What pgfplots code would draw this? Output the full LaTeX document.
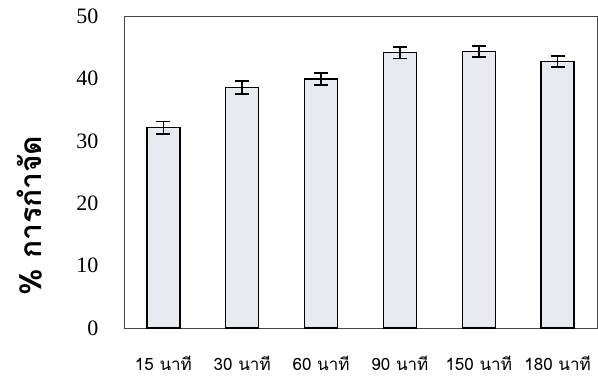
\documentclass[border=0pt]{standalone}
\usepackage{fontspec}
\setmainfont{Liberation Serif}
\newfontfamily\thaifont[Script=Thai]{Loma}
\usepackage{pgfplots}
\pgfplotsset{compat=1.18}
\definecolor{barfill}{RGB}{231,235,241}
\definecolor{framegray}{RGB}{70,70,70}

\pgfplotstableread{
x  val   err
0  32.1  1.0
1  38.5  1.05
2  39.9  1.0
3  44.1  0.9
4  44.3  0.9
5  42.7  0.85
}\removal

\begin{document}
\begin{tikzpicture}
\begin{axis}[
  scale only axis,
  width=473pt, height=312pt,
  xmin=-0.5, xmax=5.5,
  ymin=0, ymax=50,
  ytick={0,10,...,50},
  xtick={0,...,5},
  xticklabels={15 นาที,30 นาที,60 นาที,90 นาที,150 นาที,180 นาที},
  x tick label style={font=\thaifont\fontsize{17}{19}\selectfont, anchor=center, yshift=-35pt},
  y tick label style={font=\fontsize{22}{24}\selectfont, xshift=-22pt},
  /pgf/number format/assume math mode=true,
  major tick length=0pt,
  axis line style={framegray, line width=0.9pt},
  ylabel={\thaifont\bfseries\fontsize{30}{32}\selectfont \% การกำจัด},
  ylabel style={at={(axis description cs:-0.199,0.36)}, anchor=center},
  clip=false,
]
\addplot[ybar, bar width=33pt, fill=barfill, draw=black, line width=1.3pt,
  error bars/.cd, y dir=both, y explicit,
  error bar style={line width=1.8pt, black},
  error mark options={rotate=90, mark size=7pt, line width=1.8pt}]
  table[x=x, y=val, y error=err] {\removal};
\end{axis}
\path ([xshift=-124pt,yshift=-53pt]current axis.south west)
  rectangle ([xshift=1pt,yshift=16pt]current axis.north east);
\end{tikzpicture}
\end{document}
